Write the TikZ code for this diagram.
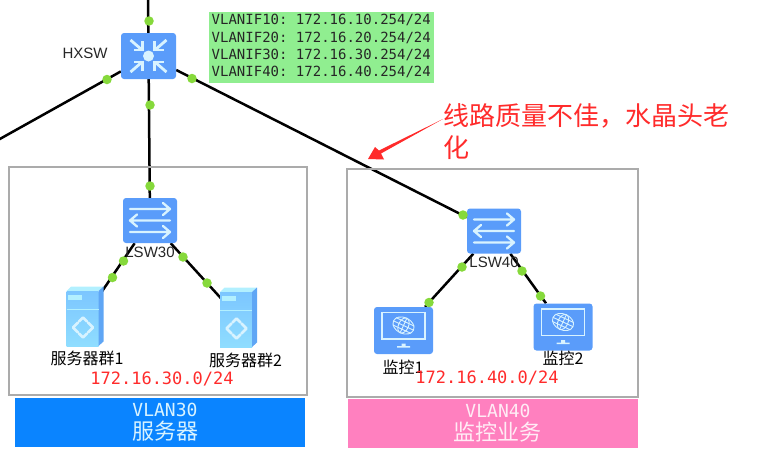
\documentclass[tikz,border=0pt]{standalone}
\usepackage{fontspec}
\setmainfont{Liberation Sans}
\newfontfamily\cjkf{Noto Sans CJK SC}
\newfontfamily\monof{DejaVu Sans Mono}
\usetikzlibrary{backgrounds}
\frenchspacing
\definecolor{devblue}{HTML}{5A9CFA}
\definecolor{iconline}{HTML}{D8F3FF}
\definecolor{dotgreen}{HTML}{86D93B}
\definecolor{labelgreen}{HTML}{90EE90}
\definecolor{ipred}{HTML}{FF2B2B}
\definecolor{barblue}{HTML}{0A84FF}
\definecolor{barpink}{HTML}{FF80BF}
\definecolor{srvtop}{HTML}{B2F0FF}
\definecolor{srvfrontA}{HTML}{7CC6FF}
\definecolor{srvfrontB}{HTML}{8FDDFF}
\definecolor{srvside}{HTML}{5FA6F5}
\tikzset{
  devbox/.style={fill=devblue,rounded corners=3,inner sep=0,minimum width=#1},
  swbox/.style={devbox=54,minimum height=45},
  corebox/.style={devbox=55,minimum height=46},
  monbox/.style={devbox=59,minimum height=47},
  srvbox/.style={inner sep=0,minimum width=37,minimum height=60},
  link/.style={draw=black,line width=2.5},
  portdot/.style={circle,fill=dotgreen,inner sep=0,minimum size=9.5},
  areabox/.style={draw=black!33,line width=1.2},
  devlabel/.style={inner sep=0,font=\fontsize{15}{15}\selectfont,text=black!85},
  cjklabel/.style={inner sep=0,font=\cjkf\fontsize{16}{16}\selectfont,text=black},
  iptext/.style={inner sep=0,text=ipred,font=\monof\fontsize{17}{17}\selectfont},
  barstyle/.style={inner sep=0,minimum width=290,minimum height=49},
  barmono/.style={inner sep=0,text height=13,text depth=0,font=\monof\fontsize{18}{18}\selectfont},
  barcjk/.style={inner sep=0,text height=18,text depth=2,font=\cjkf\fontsize{22}{22}\selectfont},
  pics/swicon/.style={code={
    \begin{scope}[draw=iconline,line width=2.3,line cap=round,line join=round]
      \draw (-20,-11.5) -- (20,-11.5) (13,-17.5) -- (20,-11.5) -- (13,-5.5);
      \draw (20,0) -- (-20,0) (-13,-6) -- (-20,0) -- (-13,6);
      \draw (-20,11.5) -- (20,11.5) (13,5.5) -- (20,11.5) -- (13,17.5);
    \end{scope}}},
  pics/coreicon/.style={code={
    \fill[iconline] (0,0) circle (5.5);
    \begin{scope}[draw=iconline,line width=2.8,line join=miter]
      \foreach \sx/\sy in {-1/-1,1/-1,-1/1,1/1}{
        \draw (\sx*18,\sy*16) -- (\sx*7,\sy*6.5);
        \draw (\sx*6,\sy*15) -- (\sx*6,\sy*6) -- (\sx*15,\sy*6);
      }
    \end{scope}}},
  pics/srvicon/.style={code={
    \fill[srvtop] (-18.5,-25.5) -- (-14,-30) -- (18.5,-30) -- (13.5,-25.5) -- cycle;
    \shade[top color=srvfrontA,bottom color=srvfrontB] (-18.5,-25.5) rectangle (13.5,29.5);
    \fill[srvside] (13.5,-25.5) -- (18.5,-30) -- (18.5,25) -- (13.5,29.5) -- cycle;
    \fill[srvtop] (-17,-22) rectangle (-3,-17);
    \draw[srvtop,line width=.8] (-18.5,-7) -- (13.5,-7);
    \begin{scope}[shift={(-2,11)}]
      \draw[iconline,line width=2.6,line cap=round]
        (-10,0) -- (-5,-5) (-10,0) -- (-5,5) (10,0) -- (5,-5) (10,0) -- (5,5)
        (0,-10) -- (4,-6) (0,-10) -- (-4,-6) (0,10) -- (4,6) (0,10) -- (-4,6);
    \end{scope}}},
  pics/monicon/.style={code={
    \draw[iconline,line width=1.5] (-21.5,-18) rectangle (21.5,8.5);
    \fill[iconline] (-2,13) rectangle (2,16) (-6.5,15.5) rectangle (6.5,17);
    \begin{scope}[shift={(0,-5)},rotate=-25,draw=iconline,line width=.9]
      \draw (0,0) ellipse (11 and 8);
      \draw (0,0) ellipse (5 and 8);
      \draw (-10,-4) -- (10,-4) (-11,0) -- (11,0) (-10,4) -- (10,4) (0,-8) -- (0,8);
    \end{scope}}}
}
\begin{document}
\begin{tikzpicture}[x=1pt,y=-1pt]
\useasboundingbox (0,0) rectangle (760,464);
% areas
\node[areabox,inner sep=0,minimum width=298,minimum height=228] (area30) at (158,281) {};
\node[areabox,inner sep=0,minimum width=291,minimum height=228] (area40) at (492.5,283) {};
% devices
\node[corebox] (hxsw) at (148.5,56) {};
\node[swbox] (lsw30) at (150,220.5) {};
\node[swbox] (lsw40) at (494,231) {};
\node[srvbox] (srv1) at (85,316.5) {};
\node[srvbox] (srv2) at (238.5,317.5) {};
\node[monbox] (mon1) at (403.5,330.5) {};
\node[monbox] (mon2) at (563,327) {};
\coordinate (uplink) at (148,-3);
\coordinate (leftlink) at (-2,140);
% connectors
\begin{scope}[on background layer]
  \draw[link] (uplink) -- (hxsw);
  \draw[link] (leftlink) -- (hxsw);
  \draw[link] (hxsw) -- (lsw30);
  \draw[link] (hxsw) -- (lsw40);
  \draw[link] (lsw30) -- (srv1.center);
  \draw[link] (lsw30) -- (srv2.center);
  \draw[link] (lsw40) -- (mon1);
  \draw[link] (lsw40) -- (mon2);
\end{scope}
% icons
\pic at (hxsw) {coreicon};
\pic at (lsw30) {swicon};
\pic at (lsw40) {swicon};
\pic at (srv1) {srvicon};
\pic at (srv2) {srvicon};
\pic at (mon1) {monicon};
\pic at (mon2) {monicon};
% ports
\node[portdot] (p1) at (149,21) {};
\node[portdot] (p2) at (107,79.5) {};
\node[portdot] (p3) at (150,105) {};
\node[portdot] (p4) at (192,78.5) {};
\node[portdot] (p5) at (150,186) {};
\node[portdot] (p6) at (463,215) {};
\node[portdot] (p7) at (123.5,261) {};
\node[portdot] (p8) at (112.5,277.5) {};
\node[portdot] (p9) at (183,257) {};
\node[portdot] (p10) at (207,283) {};
\node[portdot] (p11) at (462,267) {};
\node[portdot] (p12) at (429,302.5) {};
\node[portdot] (p13) at (522,271) {};
\node[portdot] (p14) at (540.5,296) {};
% labels
\node[fill=labelgreen,inner sep=0,minimum width=225,minimum height=71] (vlanif) at (321.5,47.5) {};
\foreach \yy/\nn in {20/10,37.5/20,55/30,72/40}{
  \node[inner sep=0,anchor=west,text=black!85,font=\monof\fontsize{14}{14}\selectfont] (vif\nn) at (211.5,\yy) {VLANIF\nn: 172.16.\nn.254/24};
}
\node[devlabel] (lhx) at (85,53) {HXSW};
\node[devlabel] (l30) at (150,252) {LSW30};
\node[devlabel] (l40) at (494,262) {LSW40};
\node[cjklabel] (ls1) at (87,358) {服务器群1};
\node[cjklabel] (ls2) at (245.5,360) {服务器群2};
\node[cjklabel] (lm1) at (403,367) {监控1};
\node[cjklabel] (lm2) at (563,358) {监控2};
\node[iptext] (ip30) at (162,378.5) {172.16.30.0/24};
\node[iptext] (ip40) at (487,377.5) {172.16.40.0/24};
% bars
\node[barstyle,fill=barblue] (bar30) at (160,422.5) {};
\node[barstyle,fill=barpink] (bar40) at (493,423.5) {};
\node[barmono,text=iconline] (b30a) at (165,409.5) {VLAN30};
\node[barcjk,text=iconline] (b30b) at (165,431.5) {服务器};
\node[barmono,text=white!85!barpink] (b40a) at (498,410.5) {VLAN40};
\node[barcjk,text=white!85!barpink] (b40b) at (497,432.5) {监控业务};
% annotation
\node[inner sep=0,anchor=north west,align=left,text=ipred,font=\cjkf\fontsize{26}{32}\selectfont] (note) at (443,103) {线路质量不佳\char"FF0C 水晶头老\\化};
\coordinate (tail) at (443,119);
\coordinate (tip) at (368,159);
\fill[ipred] (tail) -- (379,150.5) -- (375,147) -- (tip) -- (384,159.5) -- (381,153.5) -- cycle;
\end{tikzpicture}
\end{document}
